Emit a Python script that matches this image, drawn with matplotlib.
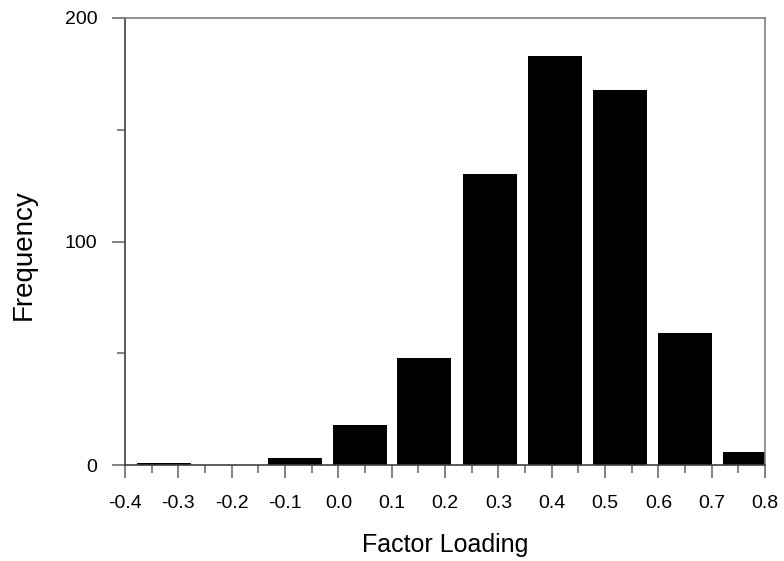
import matplotlib
matplotlib.use("Agg")
import matplotlib.pyplot as plt
import numpy as np

plt.rcParams['font.family'] = ['Liberation Sans', 'DejaVu Sans']
plt.rcParams['axes.unicode_minus'] = False

# Data
bin_centers = [-0.327, -0.205, -0.082, 0.040, 0.161, 0.284, 0.406, 0.528, 0.650, 0.772]
frequencies = [1, 0, 3, 18, 48, 130, 183, 168, 59, 6]
bar_width = 0.101
x_ticks = [-0.4, -0.3, -0.2, -0.1, 0.0, 0.1, 0.2, 0.3, 0.4, 0.5, 0.6, 0.7, 0.8]
x_tick_labels = ["-0.4", "-0.3", "-0.2", "-0.1", "0.0", "0.1", "0.2", "0.3", "0.4", "0.5", "0.6", "0.7", "0.8"]
y_ticks = [0, 100, 200]
y_tick_labels = ["0", "100", "200"]

fig = plt.figure(figsize=(7.84, 5.61), dpi=100)
ax = fig.add_axes([125/784, (561-465)/561, 640/784, 447/561])

ax.bar(bin_centers, frequencies, width=bar_width, color='black', edgecolor='none')

ax.set_xlim(-0.4, 0.8)
ax.set_ylim(0, 200)

ax.set_xticks(x_ticks)
ax.set_xticklabels(x_tick_labels)
ax.set_xticks(np.array(x_ticks[:-1]) + 0.05, minor=True)
ax.set_yticks(y_ticks)
ax.set_yticklabels(y_tick_labels)
ax.set_yticks([50, 150], minor=True)

for s in ['left', 'bottom']:
    ax.spines[s].set_color('#404040')
    ax.spines[s].set_linewidth(1.2)
for s in ['top', 'right']:
    ax.spines[s].set_color('#808080')
    ax.spines[s].set_linewidth(1.2)

ax.tick_params(axis='both', which='major', direction='out', length=9.4, width=1.1,
               color='#606060', labelsize=14, labelcolor='black')
ax.tick_params(axis='x', which='major', pad=12)
ax.tick_params(axis='y', which='major', pad=10.5)
ax.tick_params(axis='both', which='minor', direction='out', length=5.5, width=1.1,
               color='#606060')
ax.tick_params(top=False, right=False, which='both')

ax.set_xlabel("Factor Loading", fontsize=18)
ax.set_ylabel("Frequency", fontsize=20)
ax.xaxis.set_label_coords(0.5, (465-551.7)/447)
ax.xaxis.label.set_va('baseline')
ax.yaxis.set_label_coords((24-125)/640, (465-254.5)/447)
ax.yaxis.label.set_va('center')

fig.savefig("out.png", dpi=100)
